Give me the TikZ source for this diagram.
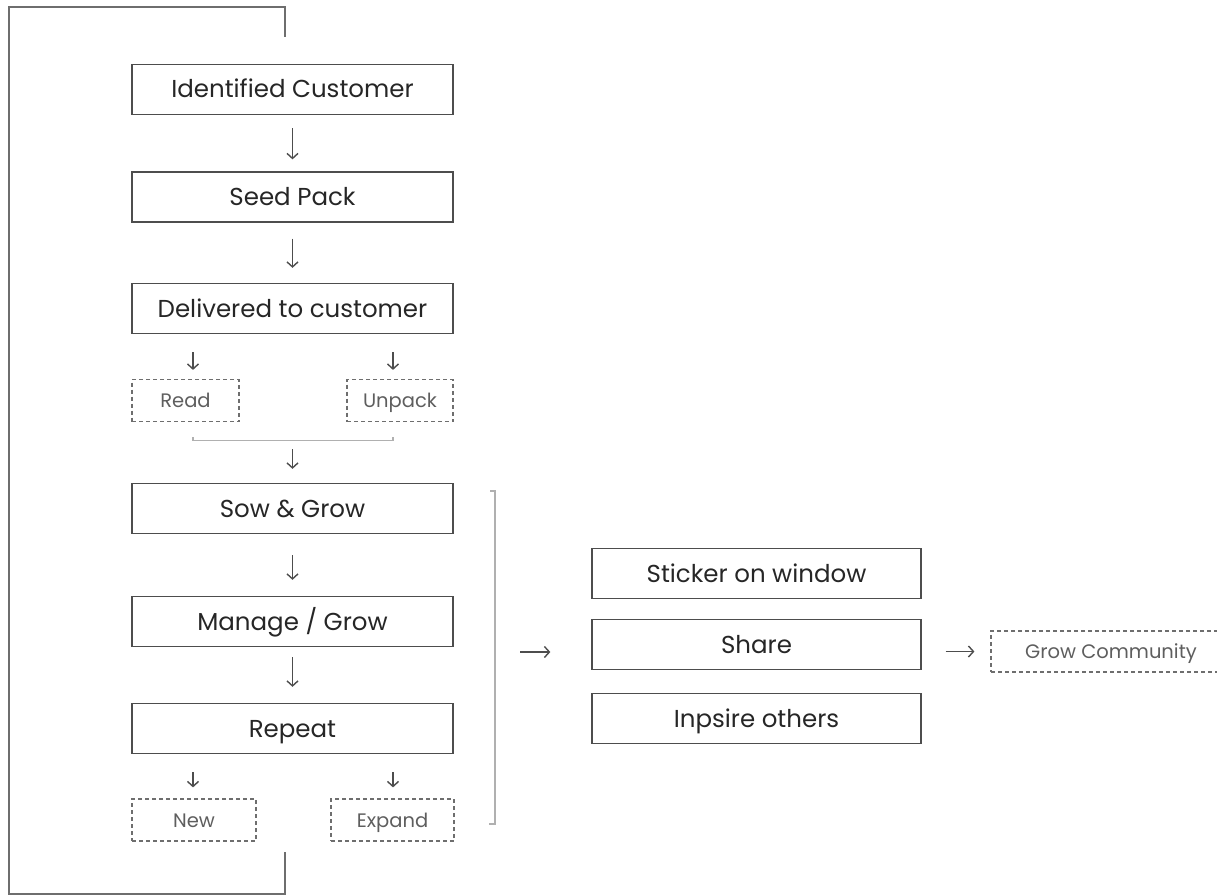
\documentclass[tikz,border=0pt]{standalone}
\usepackage{fontspec}
\setmainfont{Poppins}
\usetikzlibrary{arrows.meta}
\definecolor{boxline}{HTML}{4D4D4D}
\definecolor{boxtext}{HTML}{262626}
\definecolor{softline}{HTML}{6E6E6E}
\definecolor{softtext}{HTML}{5E5E5E}
\definecolor{brackline}{HTML}{B0B0B0}
\tikzset{
  stepbox/.style={draw=boxline, line width=1.3pt, minimum width=321pt,
    minimum height=50pt, inner sep=0pt, text=boxtext,
    text height=17pt, text depth=0pt,
    font=\fontsize{24.5}{28}\selectfont},
  sidebox/.style={stepbox, minimum width=329pt},
  optbox/.style={draw=softline, line width=1.2pt, dash pattern=on 4pt off 3pt,
    minimum height=42pt, inner sep=0pt, text=softtext,
    text height=14pt, text depth=0pt,
    font=\fontsize{19.5}{23}\selectfont},
  arr/.style={draw=boxline, line width=1.4pt, -{Straight Barb[length=5pt,width=11pt]}},
  returnline/.style={draw=softline, line width=1.3pt},
  brack/.style={draw=brackline, line width=1.2pt}
}
\begin{document}
\begin{tikzpicture}[x=1pt,y=-1pt]
  \clip (0,0) rectangle (1217,896);
  \useasboundingbox (0,0) rectangle (1217,896);
  % main column
  \node[stepbox] (ident) at (292.5,89.5) {Identified Customer};
  \node[stepbox] (seed) at (292.5,197) {Seed Pack};
  \node[stepbox] (deliv) at (292.5,308.5) {Delivered to customer};
  \node[optbox, minimum width=107pt] (read) at (185.5,400.5) {Read};
  \node[optbox, minimum width=106pt] (unpack) at (400,400.5) {Unpack};
  \node[stepbox] (sow) at (292.5,508.5) {Sow \& Grow};
  \node[stepbox] (manage) at (292.5,621.5) {Manage / Grow};
  \node[stepbox] (repeat) at (292.5,728.5) {Repeat};
  \node[optbox, minimum width=124pt] (new) at (194,820) {New};
  \node[optbox, minimum width=123pt] (expand) at (392.5,820) {Expand};
  % right side
  \node[sidebox] (sticker) at (756.5,573.5) {Sticker on window};
  \node[sidebox] (share) at (756.5,644.5) {Share};
  \node[sidebox] (inspire) at (756.5,718.5) {Inpsire others};
  \node[optbox, minimum width=240pt, minimum height=41pt] (grow) at (1111,651.5) {Grow Community};
  % helper points
  \coordinate (lcol) at (193,0);
  \coordinate (rcol) at (393,0);
  \coordinate (looptop) at (285,37);
  \coordinate (loopbot) at (285,852);
  \coordinate (brkmid) at (495,652);

  \draw[arr, shorten <=13pt, shorten >=12pt] (ident) -- (seed);
  \draw[arr, shorten <=16pt, shorten >=15pt] (seed) -- (deliv);
  \draw[arr, shorten <=18pt, shorten >=9pt] (deliv.south -| lcol) -- (read.north -| lcol);
  \draw[arr, shorten <=18pt, shorten >=9pt] (deliv.south -| rcol) -- (unpack.north -| rcol);
  \draw[brack] ([yshift=-15pt]read.south -| lcol) -- ++(0,3) -| ([yshift=-15pt]unpack.south -| rcol);
  \draw[arr, shorten <=27pt, shorten >=14pt] (read.south -| sow.north) -- (sow.north);
  \draw[arr, shorten <=21pt, shorten >=16pt] (sow) -- (manage);
  \draw[arr, shorten <=10pt, shorten >=16pt] (manage) -- (repeat);
  \draw[arr, shorten <=18pt, shorten >=11pt] (repeat.south -| lcol) -- (new.north -| lcol);
  \draw[arr, shorten <=18pt, shorten >=11pt] (repeat.south -| rcol) -- (expand.north -| rcol);
  % bracket round the growing steps
  \draw[brack] (490,491) -| (brkmid) |- (489,824);
  \draw[arr, shorten <=25pt, shorten >=41pt] (brkmid) -- (share.west |- brkmid);
  \draw[arr, shorten <=24pt, shorten >=16pt] (share.east |- grow.west) -- (grow.west);
  % return line
  \draw[returnline] (looptop) -- ++(0,-30) -| (9,894) -| (loopbot);
\end{tikzpicture}
\end{document}
